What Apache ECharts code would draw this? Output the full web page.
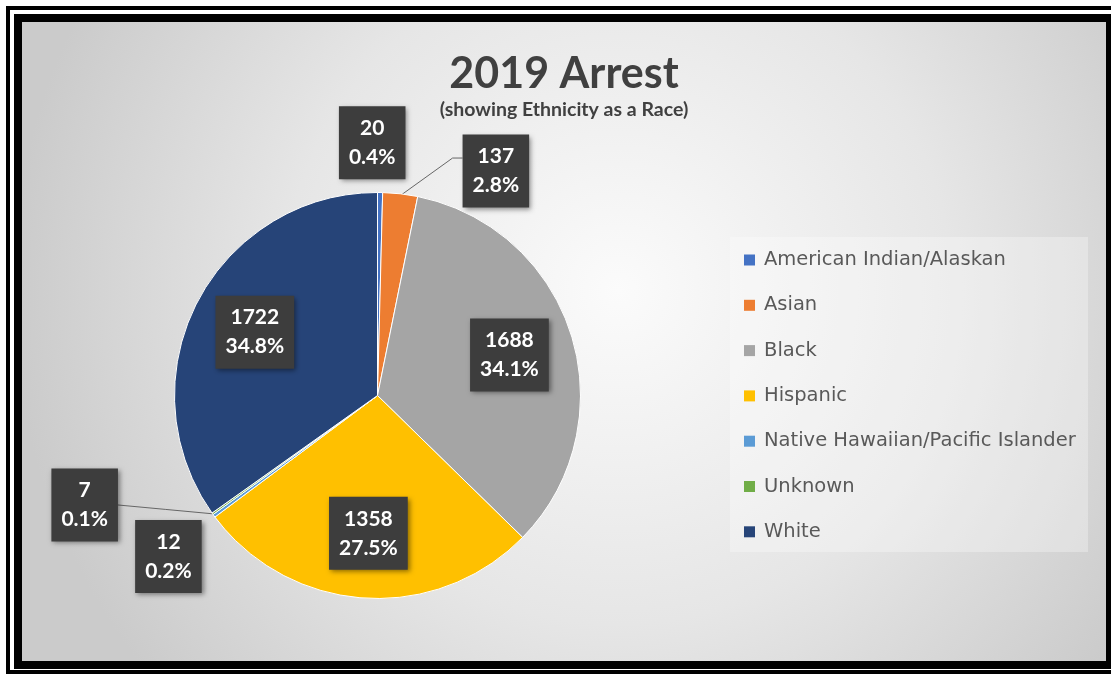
<!DOCTYPE html>
<html>
<head>
<meta charset="utf-8">
<script src="https://cdn.jsdelivr.net/npm/echarts@6/dist/echarts.min.js"></script>
<style>
  html, body { margin: 0; padding: 0; width: 1111px; height: 675px; overflow: hidden; background: #ffffff; }
  #outerLine { position: absolute; left: 6px; top: 6px; width: 1130px; height: 668px; border: 4px solid #000; box-sizing: border-box; }
  #thick { position: absolute; left: 14px; top: 14px; width: 1120px; height: 655px; background: #000; }
  #chart { position: absolute; left: 22px; top: 22px; width: 1084px; height: 639px; }
</style>
</head>
<body>
<div id="outerLine"></div>
<div id="thick"></div>
<div id="chart"></div>
<script>
// ---- data ----
const categories = ['American Indian/Alaskan', 'Asian', 'Black', 'Hispanic', 'Native Hawaiian/Pacific Islander', 'Unknown', 'White'];
const arrests = [20, 137, 1688, 1358, 12, 7, 1722];
const sliceColors = ['#4472C4', '#ED7D31', '#A5A5A5', '#FFC000', '#5B9BD5', '#70AD47', '#264478'];
const titleText = '2019 Arrest';
const subtitleText = '(showing Ethnicity as a Race)';

// ---- layout (not data) ----
const CX = 355.5, CY = 373.5, R = 203;
const INSIDE_DIST = 0.68;
// outside label anchors for thin slices: angle (deg, clockwise from top), distance (x radius)
const outsidePlacement = {
  0: { angle: -1.2, dist: 1.245 },
  1: { angle: 27.8, dist: 1.25 },
  4: { angle: 232.4, dist: 1.30 },
  5: { angle: 249.5, dist: 1.54 }
};
const withLeader = { 1: true, 5: true };

const total = arrests.reduce((a, b) => a + b, 0);
function midAngle(i) {
  let before = 0;
  for (let k = 0; k < i; k++) before += arrests[k];
  return (before + arrests[i] / 2) / total * Math.PI * 2;
}
function edgePoint(a, f) {
  return [CX + R * f * Math.sin(a), CY - R * f * Math.cos(a)];
}

const chart = echarts.init(document.getElementById('chart'));
const data = categories.map((name, i) => ({
  name: name,
  value: arrests[i],
  itemStyle: { color: sliceColors[i] },
  labelLine: { show: !!withLeader[i] }
}));

chart.setOption({
  animation: false,
  graphic: [
    {
      type: 'rect', z: -10, silent: true,
      shape: { x: 0, y: 0, width: 1084, height: 639 },
      style: {
        fill: {
          type: 'radial', x: 0.55, y: 0.42, r: 0.95,
          colorStops: [
            { offset: 0, color: '#fbfbfb' },
            { offset: 0.55, color: '#e6e6e6' },
            { offset: 1, color: '#cbcbcb' }
          ]
        }
      }
    },
    {
      type: 'rect', z: 1, silent: true,
      shape: { x: 708, y: 215, width: 358, height: 315 },
      style: { fill: 'rgba(255,255,255,0.30)' }
    }
  ],
  title: {
    text: titleText,
    subtext: subtitleText,
    left: 'center',
    top: 26,
    itemGap: 4,
    textStyle: { fontFamily: 'Lato', fontWeight: 'bold', fontSize: 43, color: '#404040' },
    subtextStyle: { fontFamily: 'Lato', fontWeight: 'bold', fontSize: 19.5, color: '#404040' }
  },
  legend: {
    orient: 'vertical',
    left: 722,
    top: 228,
    padding: 0,
    itemWidth: 11,
    itemHeight: 11,
    itemGap: 25.3,
    icon: 'rect',
    itemStyle: { borderWidth: 0 },
    data: categories,
    textStyle: { fontFamily: 'DejaVu Sans', fontSize: 19.5, color: '#595959', lineHeight: 20, padding: [0, 0, 0, 4] }
  },
  series: [{
    type: 'pie',
    center: [CX, CY],
    radius: [0, R],
    startAngle: 90,
    clockwise: true,
    avoidLabelOverlap: false,
    itemStyle: { borderColor: '#ffffff', borderWidth: 1 },
    data: data,
    label: {
      show: true,
      position: 'outside',
      formatter: function (p) {
        return p.value + '\n' + (p.value / total * 100).toFixed(1) + '%';
      },
      fontFamily: 'Lato',
      fontWeight: 'bold',
      fontSize: 21,
      lineHeight: 29,
      color: '#ffffff',
      backgroundColor: '#3d3d3d',
      padding: [8, 10, 7, 10],
      shadowColor: 'rgba(0,0,0,0.45)',
      shadowBlur: 5,
      shadowOffsetX: 2,
      shadowOffsetY: 2
    },
    labelLine: { show: false, lineStyle: { color: '#666666', width: 1 } },
    labelLayout: function (params) {
      const i = params.dataIndex;
      const a = midAngle(i);
      const p = outsidePlacement[i];
      const ang = p ? p.angle * Math.PI / 180 : a;
      const dist = p ? p.dist : INSIDE_DIST;
      const x = CX + R * dist * Math.sin(ang);
      const y = CY - R * dist * Math.cos(ang);
      const res = { x: x, y: y, align: 'center', verticalAlign: 'middle' };
      const w = params.labelRect.width;
      if (i === 1) {
        const s = edgePoint(a, 0.99);
        const e = [x - w / 2, y - 13];
        res.labelLinePoints = [s, [e[0] - 10, e[1]], e];
      } else if (i === 5) {
        const s = edgePoint(a, 1.0);
        const e = [x + w / 2, y];
        res.labelLinePoints = [s, [(s[0] + e[0]) / 2, (s[1] + e[1]) / 2], e];
      }
      return res;
    }
  }]
});
</script>
</body>
</html>
